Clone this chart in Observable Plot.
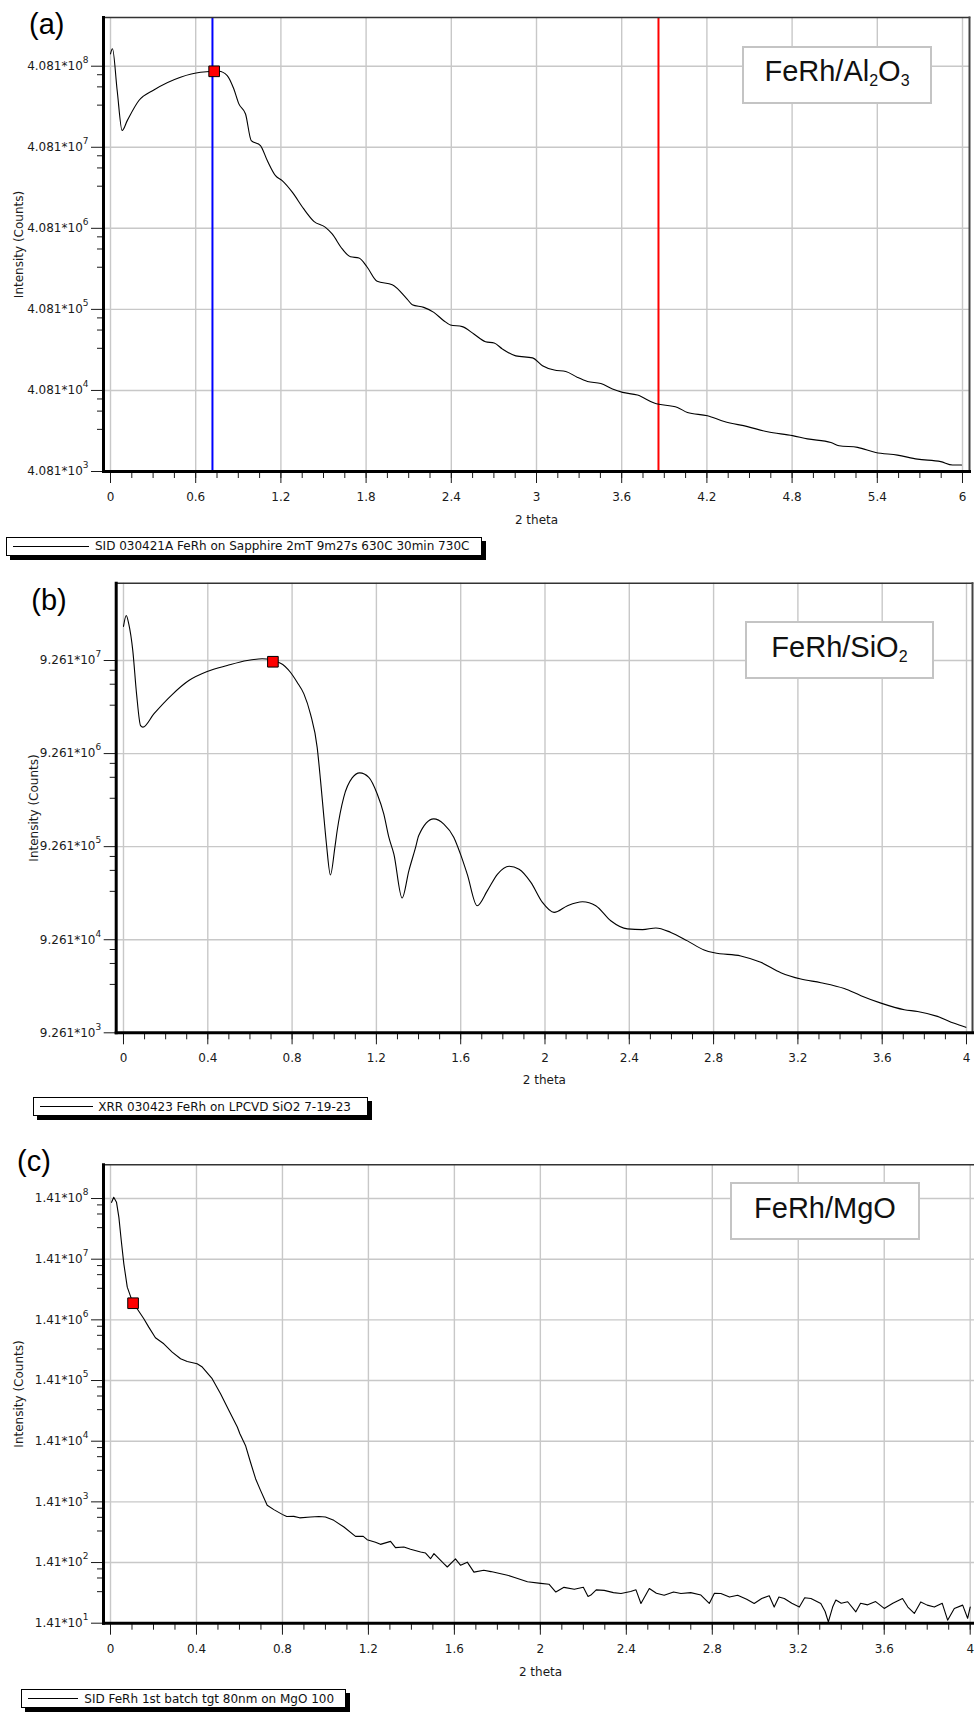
<!DOCTYPE html>
<html><head><meta charset="utf-8">
<script src="https://cdn.jsdelivr.net/npm/d3@7"></script>
<script src="https://cdn.jsdelivr.net/npm/@observablehq/plot@0.6"></script>
<style>
html,body{margin:0;padding:0;background:#fff;overflow:hidden;}
#page{position:relative;width:974px;height:1713px;overflow:hidden;background:#fff;font-family:"DejaVu Sans",sans-serif;}
.panel{position:absolute;left:0;}
.plab{position:absolute;font-family:"Liberation Sans",Arial,sans-serif;font-size:29px;color:#000;line-height:1;white-space:nowrap;}
.tag{position:absolute;box-sizing:border-box;border:2px solid #c4c4c4;background:#fff;font-family:"Liberation Sans",Arial,sans-serif;font-size:29px;line-height:1;color:#111;display:flex;align-items:center;justify-content:center;padding-bottom:6px;white-space:nowrap;}
.tag .t{display:inline-block;line-height:1;}
.tag sub{font-size:16px;vertical-align:-5px;line-height:0;}
.leg{position:absolute;box-sizing:border-box;border:1px solid #000;background:#fff;box-shadow:4px 4px 0 #000;font-family:"DejaVu Sans",sans-serif;font-size:12px;color:#111;display:flex;align-items:center;white-space:nowrap;}
.leg .ln{display:inline-block;border-top:1px solid #000;height:0;}
</style></head><body><div id="page"></div>
<script>
// ---------------- DATA ----------------
// Panel (a): FeRh / Al2O3
const thetaA = [0,0.014,0.047,0.082,0.118,0.2,0.305,0.493,0.634,0.763,0.822,0.868,0.904,0.951,0.991,1.056,1.104,1.162,1.209,1.28,1.361,1.432,1.514,1.561,1.632,1.69,1.75,1.808,1.878,1.984,2.089,2.125,2.206,2.277,2.347,2.394,2.477,2.559,2.641,2.702,2.761,2.854,2.972,3.042,3.125,3.206,3.289,3.359,3.453,3.535,3.606,3.711,3.829,3.993,4.063,4.204,4.322,4.486,4.627,4.803,4.908,5.073,5.131,5.261,5.389,5.542,5.683,5.847,5.93,5.993];
const countsA = [5.8e8,6.7e8,2.05e8,6.56e7,8.7e7,1.54e8,2.08e8,2.99e8,3.44e8,3.54e8,3.13e8,2.15e8,1.40e8,1.05e8,4.94e7,4.29e7,2.80e7,1.82e7,1.58e7,1.14e7,7.08e6,4.98e6,4.2e6,3.48e6,2.27e6,1.82e6,1.76e6,1.35e6,9.05e5,8.24e5,5.48e5,4.67e5,4.32e5,3.75e5,2.96e5,2.62e5,2.5e5,2.03e5,1.63e5,1.57e5,1.32e5,1.09e5,1.03e5,8.24e4,7.28e4,7.0e4,5.9e4,5.27e4,4.98e4,4.25e4,3.86e4,3.58e4,2.85e4,2.52e4,2.18e4,1.99e4,1.69e4,1.46e4,1.26e4,1.13e4,1.03e4,9.3e3,8.5e3,8.1e3,7.0e3,6.5e3,5.8e3,5.4e3,4.9e3,4.9e3];
const markerA = {theta: 0.73, counts: 3.53e8};
const cursorThetaA = [0.718, 3.859];
const cursorColorA = ["#0000ff", "#ff0000"];
const xTicksA = [0,0.6,1.2,1.8,2.4,3,3.6,4.2,4.8,5.4,6];
const yExpA = [3,4,5,6,7,8];
const yMantA = "4.081";
const legendA = "SID 030421A FeRh on Sapphire 2mT 9m27s 630C 30min 730C";
const tagA = "FeRh/Al<sub>2</sub>O<sub>3</sub>";

// Panel (b): FeRh / SiO2
const thetaB = [0,0.013,0.025,0.044,0.062,0.081,0.092,0.144,0.231,0.31,0.397,0.492,0.587,0.658,0.745,0.792,0.824,0.856,0.887,0.919,0.935,0.951,0.963,0.982,1.003,1.014,1.045,1.085,1.121,1.164,1.204,1.235,1.259,1.283,1.322,1.354,1.386,1.401,1.472,1.52,1.567,1.599,1.631,1.678,1.726,1.775,1.83,1.877,1.933,1.988,2.043,2.107,2.178,2.241,2.312,2.391,2.463,2.526,2.597,2.676,2.755,2.803,2.929,3.024,3.119,3.214,3.309,3.42,3.499,3.594,3.705,3.768,3.862,3.942,3.997];
const countsB = [2.15e8,2.82e8,2.29e8,1.19e8,4.06e7,1.85e7,1.78e7,2.47e7,3.99e7,5.64e7,7.05e7,8.18e7,9.26e7,9.66e7,8.67e7,6.93e7,5.41e7,4.06e7,2.47e7,1.08e7,4.74e6,1.91e6,9.9e5,4.6e5,9.1e5,1.38e6,3.14e6,5.07e6,5.74e6,5.15e6,3.41e6,2.08e6,1.17e6,7.7e5,2.6e5,5.1e5,9.1e5,1.22e6,1.84e6,1.62e6,1.17e6,7.7e5,4.7e5,2.15e5,3.1e5,4.7e5,5.7e5,5.3e5,3.83e5,2.33e5,1.82e5,2.15e5,2.37e5,2.15e5,1.48e5,1.21e5,1.19e5,1.24e5,1.11e5,9.0e4,7.2e4,6.7e4,6.2e4,5.3e4,4.1e4,3.5e4,3.2e4,2.77e4,2.32e4,1.93e4,1.64e4,1.57e4,1.39e4,1.17e4,1.06e4];
const markerB = {theta: 0.709, counts: 8.98e7};
const xTicksB = [0,0.4,0.8,1.2,1.6,2,2.4,2.8,3.2,3.6,4];
const yExpB = [3,4,5,6,7];
const yMantB = "9.261";
const legendB = "XRR 030423 FeRh on LPCVD SiO2 7-19-23";
const tagB = "FeRh/SiO<sub>2</sub>";

// Panel (c): FeRh / MgO
const thetaC = [0.005,0.015,0.028,0.039,0.05,0.062,0.078,0.104,0.124,0.155,0.178,0.209,0.248,0.287,0.326,0.357,0.403,0.427,0.473,0.512,0.551,0.59,0.602,0.628,0.651,0.675,0.698,0.729,0.76,0.799,0.82,0.853,0.88,0.931,0.97,1.0,1.039,1.086,1.14,1.176,1.194,1.233,1.256,1.303,1.326,1.365,1.396,1.443,1.466,1.489,1.505,1.551,1.567,1.605,1.629,1.66,1.691,1.737,1.77,1.847,1.88,1.94,2.002,2.04,2.072,2.11,2.158,2.2,2.222,2.235,2.26,2.297,2.34,2.375,2.42,2.445,2.468,2.507,2.54,2.576,2.62,2.654,2.7,2.747,2.786,2.81,2.84,2.88,2.918,2.96,2.995,3.03,3.065,3.088,3.11,3.135,3.17,3.205,3.23,3.259,3.305,3.325,3.34,3.36,3.375,3.4,3.43,3.468,3.49,3.523,3.56,3.6,3.64,3.685,3.71,3.74,3.77,3.8,3.833,3.87,3.895,3.926,3.965,3.988,4.0];
const countsC = [1.22e8,1.48e8,1.22e8,6.9e7,2.87e7,1.18e7,4.88e6,2.69e6,2.15e6,1.47e6,1.07e6,7.15e5,5.69e5,4.14e5,3.22e5,2.91e5,2.67e5,2.35e5,1.51e5,8.55e4,4.54e4,2.41e4,1.87e4,1.2e4,6.4e3,3.4e3,2.18e3,1.24e3,1.05e3,877,809,813,769,792,809,792,699,542,381,381,336,305,281,315,248,254,233,210,202,163,198,135,119,162,127,143,98,105,100,87,80,68,64,62,46,55,51,55,39,41,50,49,45,43.5,47,50,29.8,52.6,44,40.8,46,43.5,45,41,29.8,44,43.5,38,40.8,35,29.8,36,40,26,38,36,30,26,37,36,29.8,22,14.8,26,34,30,31.8,21.7,30,28.3,32,24.7,30,36,26,20.4,31.6,28,26,30,15.8,24.6,28,17,26];
const markerC = {theta: 0.105, counts: 2.65e6};
const xTicksC = [0,0.4,0.8,1.2,1.6,2,2.4,2.8,3.2,3.6,4];
const yExpC = [1,2,3,4,5,6,7,8];
const yMantC = "1.41";
const legendC = "SID FeRh 1st batch tgt 80nm on MgO 100";
const tagC = "FeRh/MgO";

// minor log-tick factors below each labelled decade
const yMinorFactors = [0.785, 0.556, 0.331];

// ---------------- DRAW ----------------
const page = document.getElementById("page");

function supify(svg) {
  svg.querySelectorAll("text").forEach(t => {
    if (t.querySelector("tspan")) return;
    const s = t.textContent; const i = s.indexOf("^");
    if (i < 0) return;
    t.textContent = s.slice(0, i);
    const ts = document.createElementNS("http://www.w3.org/2000/svg", "tspan");
    ts.setAttribute("dy", "-7");
    ts.setAttribute("font-size", "9px");
    ts.textContent = s.slice(i + 1);
    t.appendChild(ts);
  });
}

function drawPanel(c) {
  const m = +c.mant;
  const yMajor = c.exps.map(e => m * Math.pow(10, e));
  const yMinor = yMajor.slice(1).flatMap(v => yMinorFactors.map(f => v * f));
  const xMinor = d3.range(c.xTicks[0], c.xTicks[c.xTicks.length - 1] + 1e-9, c.xMinorStep);
  const data = c.theta.map((t, i) => ({theta: t, counts: c.counts[i]}));
  const yLabels = yMajor.map((v, i) => ({v, label: `${c.mant}*10^${c.exps[i]}`}));
  const grid = {stroke: "#c8c8c8", strokeOpacity: 1, strokeWidth: 1.4};
  const marks = [Plot.gridX(c.xTicks, grid), Plot.gridY(yMajor, grid)];
  if (c.cursors) marks.push(Plot.ruleX(c.cursors, {x: "theta", stroke: "color", strokeWidth: 2}));
  marks.push(
    Plot.line(data, {x: "theta", y: "counts", curve: c.curve, stroke: "#000", strokeWidth: 1.1}),
    Plot.dot([c.marker], {x: "theta", y: "counts", symbol: "square", r: 6, fill: "#ff0000", stroke: "#000", strokeWidth: 1}),
    Plot.axisX(c.xTicks, {tickSize: 12, tickPadding: 9, tickFormat: d => String(+d.toFixed(2)), label: "2 theta", labelAnchor: "center", labelOffset: c.xLabelOffset, labelArrow: "none"}),
    Plot.axisX(xMinor, {tickSize: 7, tickFormat: () => "", label: null}),
    Plot.axisY(yMajor, {tickSize: 12, tickFormat: () => "", label: "Intensity (Counts)", labelAnchor: "center", labelOffset: c.yLabelOffset, labelArrow: "none"}),
    Plot.axisY(yMinor, {tickSize: 6, tickFormat: () => "", label: null}),
    Plot.text(yLabels, {y: "v", text: "label", frameAnchor: "left", textAnchor: "end", dx: -15, fill: "#1a1a1a", fontSize: 12}),
    Plot.frame({anchor: "top", stroke: "#333", strokeWidth: 1.5}),
    Plot.frame({anchor: "right", stroke: "#444", strokeWidth: 2}),
    Plot.frame({anchor: "left", stroke: "#000", strokeWidth: 3}),
    Plot.frame({anchor: "bottom", stroke: "#000", strokeWidth: 3})
  );
  const svg = Plot.plot({
    width: c.width, height: c.height,
    marginLeft: c.mL, marginRight: c.mR, marginTop: c.mT, marginBottom: c.mB,
    x: {domain: c.xDom},
    y: {type: "log", domain: c.yDom},
    style: {fontFamily: "DejaVu Sans", fontSize: "12px", color: "#1a1a1a", background: "transparent", maxWidth: "none", overflow: "visible"},
    marks
  });
  supify(svg);
  const wrap = document.createElement("div");
  wrap.className = "panel";
  wrap.style.top = c.top + "px";
  wrap.appendChild(svg);
  page.appendChild(wrap);

  // panel letter
  const lab = document.createElement("div");
  lab.className = "plab";
  lab.style.left = c.letterPos[0] + "px"; lab.style.top = c.letterPos[1] + "px";
  lab.textContent = c.letter;
  page.appendChild(lab);
  // sample tag
  const tag = document.createElement("div");
  tag.className = "tag";
  const [tl, tt, tw, th] = c.tagBox;
  Object.assign(tag.style, {left: tl + "px", top: tt + "px", width: tw + "px", height: th + "px"});
  tag.innerHTML = `<span class="t">${c.tag}</span>`;
  page.appendChild(tag);
  // legend
  const leg = document.createElement("div");
  leg.className = "leg";
  const [ll, lt, lw, lh, lineStart, lineW, gap] = c.legBox;
  Object.assign(leg.style, {left: ll + "px", top: lt + "px", width: lw + "px", height: lh + "px"});
  const ln = document.createElement("span");
  ln.className = "ln";
  ln.style.marginLeft = lineStart + "px"; ln.style.width = lineW + "px"; ln.style.marginRight = gap + "px";
  const tx = document.createElement("span");
  tx.textContent = c.legend;
  leg.appendChild(ln); leg.appendChild(tx);
  page.appendChild(leg);
}

drawPanel({
  top: 0, width: 974, height: 530, mL: 103, mR: 5, mT: 17, mB: 59,
  xDom: [-0.0493, 6.0493], yDom: [4.081e3, 1.628e9],
  xTicks: xTicksA, xMinorStep: 0.15, mant: yMantA, exps: yExpA,
  theta: thetaA, counts: countsA, marker: markerA, curve: "monotone-x",
  cursors: cursorThetaA.map((t, i) => ({theta: t, color: cursorColorA[i]})),
  yLabelOffset: 89, xLabelOffset: 52,
  letter: "(a)", letterPos: [29, 10],
  tag: tagA, tagBox: [742, 45.7, 190, 58.3],
  legend: legendA, legBox: [5.7, 536.7, 476, 19.3, 6, 76.6, 5.7]
});
drawPanel({
  top: 570, width: 974, height: 520, mL: 115.7, mR: 2, mT: 12.7, mB: 57.7,
  xDom: [-0.0346, 4.0285], yDom: [9.261e3, 6.27e8],
  xTicks: xTicksB, xMinorStep: 0.1, mant: yMantB, exps: yExpB,
  theta: thetaB, counts: countsB, marker: markerB, curve: "monotone-x",
  yLabelOffset: 86.4, xLabelOffset: 51.5,
  letter: "(b)", letterPos: [31.3, 585.5],
  tag: tagB, tagBox: [744.7, 621, 189.6, 58.3],
  legend: legendB, legBox: [33.3, 1097.3, 334.4, 18.7, 5.7, 53.3, 5]
});
drawPanel({
  top: 1130, width: 982, height: 555, mL: 103, mR: 5, mT: 34.3, mB: 62.3,
  xDom: [-0.0326, 4.034], yDom: [14.1, 5.07e8],
  xTicks: xTicksC, xMinorStep: 0.1, mant: yMantC, exps: yExpC,
  theta: thetaC, counts: countsC, marker: markerC, curve: "linear",
  yLabelOffset: 89, xLabelOffset: 53,
  letter: "(c)", letterPos: [17, 1146.5],
  tag: tagC, tagBox: [730.3, 1182.3, 189.4, 57.7],
  legend: legendC, legBox: [20.7, 1689.3, 325, 19, 6, 50.6, 6]
});
</script></body></html>
